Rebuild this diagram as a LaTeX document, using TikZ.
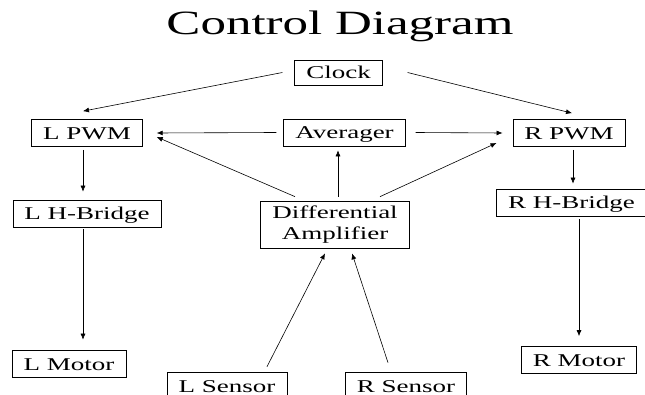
\documentclass[tikz,border=0pt]{standalone}
\usepackage{fontspec}
\setmainfont[FakeStretch=1.5]{Liberation Serif}
\usetikzlibrary{arrows.meta,calc}
\begin{document}
\begin{tikzpicture}[x=1pt, y=-1pt, >={Latex[length=6pt,width=5pt]},
        block/.style={draw, line width=0.7pt, inner xsep=11.5pt, inner ysep=0pt, minimum height=27pt, align=center,
                      font=\fontsize{18}{21}\selectfont},
        oneline/.style={block, text height=13pt, text depth=0pt},
        link/.style={->, line width=0.6pt}]
      \clip (0,0) rectangle (645,395);
      \node[anchor=base, font=\fontsize{34}{40}\selectfont] (title) at (340,35) {Control Diagram};
      \node[oneline, minimum height=25pt] (clock) at (338.5,72.5) {Clock};
      \node[oneline] (lpwm)    at (87,133)    {L PWM};
      \node[oneline] (avg)     at (344.5,132.5) {Averager};
      \node[oneline] (rpwm)    at (569,133)   {R PWM};
      \node[oneline] (lhb)     at (87,213.5)  {L H-Bridge};
      \node[block, minimum height=47pt] (diff) at (335,224.5) {Differential\\Amplifier};
      \node[oneline] (rhb)     at (571.5,202.5) {R H-Bridge};
      \node[oneline] (lmotor)  at (69,363.5)  {L Motor};
      \node[oneline] (rmotor)  at (579,360)   {R Motor};
      \node[oneline] (lsensor) at (227,385.5) {L Sensor};
      \node[oneline] (rsensor) at (406,385.5) {R Sensor};
      % clock to both PWMs
      \draw[link] ($(clock.west)+(-12,0)$) -- ($(lpwm.north)+(-4,-8)$);
      \draw[link] ($(clock.east)+(25,0)$) -- ($(rpwm.north)+(3,-6)$);
      % averager and amplifier to PWMs
      \draw[link] ($(avg.west)+(-7,0)$) -- ($(lpwm.east)+(14,0)$);
      \draw[link] ($(avg.east)+(10,0)$) -- ($(rpwm.west)+(-10,0)$);
      \draw[link] ($(diff.north)+(-40,-4)$) -- ($(lpwm.east)+(14,4)$);
      \draw[link] ($(diff.north)+(3,-4)$) -- ($(diff.north |- avg.south)+(3,4)$);
      \draw[link] ($(diff.north)+(45,-4)$) -- ($(rpwm.west)+(-16,10)$);
      % PWM to H-bridge to motor
      \draw[link] ($(lpwm.south)+(-4,3)$) -- ($(lhb.north)+(-4,-8)$);
      \draw[link] ($(rpwm.south)+(4,3)$) -- ($(rpwm.south |- rhb.north)+(4,-5)$);
      \draw[link] ($(lhb.south)+(-4,2)$) -- ($(lhb.south |- lmotor.north)+(-4,-10)$);
      \draw[link] ($(rmotor.north |- rhb.south)+(0,3)$) -- ($(rmotor.north)+(0,-10)$);
      % sensors to amplifier
      \draw[link] ($(lsensor.north)+(40,-5)$) -- ($(diff.south)+(-10,5)$);
      \draw[link] ($(rsensor.north)+(-18,-9)$) -- ($(diff.south)+(17,5)$);
\end{tikzpicture}
\end{document}
